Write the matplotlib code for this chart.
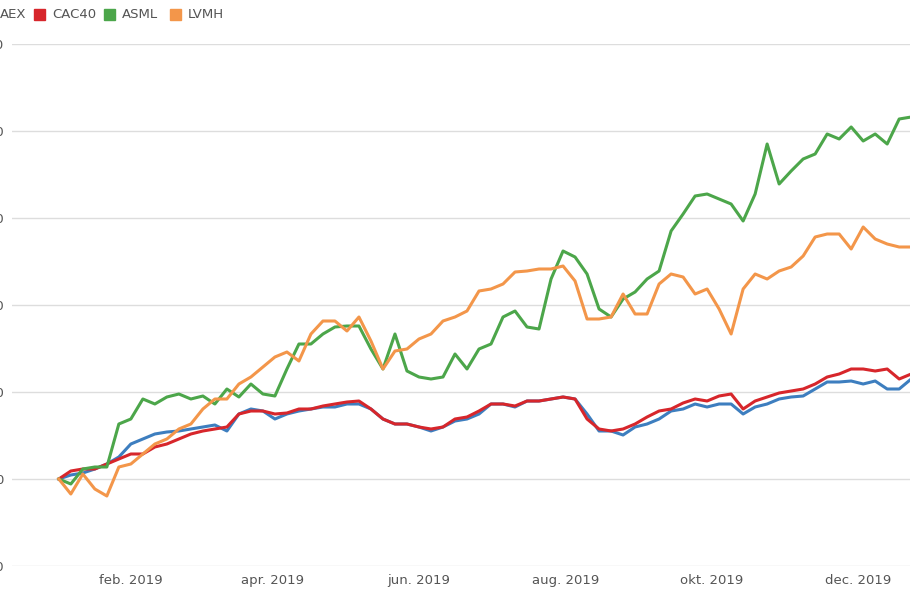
import matplotlib
matplotlib.use("Agg")
import matplotlib.pyplot as plt
import matplotlib.patches as mpatches
import pandas as pd

W, H = 910, 596

# one point every 5 days from 2 Jan 2019
dates = pd.date_range("2019-01-02", periods=72, freq="5D")

# read as pixel heights then converted to % (480 px = 0%, 87 px = 20%)
aex_px = [480, 476, 474, 470, 465, 458, 445, 440, 435, 433, 432, 430, 428, 426, 432, 415, 410, 412,
          420, 415, 412, 410, 408, 408, 405, 405, 410, 420, 425, 425, 428, 432, 428, 422, 420, 415,
          405, 405, 408, 402, 402, 400, 398, 400, 415, 432, 432, 436, 428, 425, 420, 412, 410, 405,
          408, 405, 405, 415, 408, 405, 400, 398, 397, 390, 383, 383, 382, 385, 382, 390, 390, 380]
cac_px = [480, 472, 470, 470, 465, 460, 455, 455, 448, 445, 440, 435, 432, 430, 428, 415, 412, 412,
          415, 414, 410, 410, 407, 405, 403, 402, 410, 420, 425, 425, 428, 430, 428, 420, 418, 412,
          405, 405, 407, 402, 402, 400, 398, 400, 420, 430, 432, 430, 425, 418, 412, 410, 404, 400,
          402, 397, 395, 410, 402, 398, 394, 392, 390, 385, 378, 375, 370, 370, 372, 370, 380, 375]
asml_px = [480, 485, 470, 468, 468, 425, 420, 400, 405, 398, 395, 400, 397, 405, 390, 398, 385, 395,
           397, 370, 345, 345, 335, 328, 327, 327, 350, 370, 335, 372, 378, 380, 378, 355, 370, 350,
           345, 318, 312, 328, 330, 280, 252, 258, 275, 310, 318, 300, 293, 280, 272, 232, 215, 197,
           195, 200, 205, 222, 195, 145, 185, 172, 160, 155, 135, 140, 128, 142, 135, 145, 120, 118]
lvmh_px = [480, 495, 475, 490, 497, 468, 465, 455, 445, 440, 430, 425, 410, 400, 400, 385, 378, 368,
           358, 353, 362, 335, 322, 322, 332, 318, 342, 370, 352, 350, 340, 335, 322, 318, 312, 292,
           290, 285, 273, 272, 270, 270, 267, 282, 320, 320, 318, 295, 315, 315, 285, 275, 278, 295,
           290, 310, 335, 290, 275, 280, 272, 268, 257, 238, 235, 235, 250, 228, 240, 245, 248, 248]

series = {
    "AEX": ([(480 - p) * 20 / 87 for p in aex_px], "#3d7ebf"),
    "CAC40": ([(480 - p) * 20 / 87 for p in cac_px], "#d7262b"),
    "ASML": ([(480 - p) * 20 / 87 for p in asml_px], "#4ca64a"),
    "LVMH": ([(480 - p) * 20 / 87 for p in lvmh_px], "#f3964a"),
}

yticks = [-20, 0, 20, 40, 60, 80, 100]
xtick_dates = pd.to_datetime(["2019-02-01", "2019-04-01", "2019-06-01",
                              "2019-08-01", "2019-10-01", "2019-12-01"])
xtick_labels = ["feb. 2019", "apr. 2019", "jun. 2019", "aug. 2019", "okt. 2019", "dec. 2019"]

fig = plt.figure(figsize=(W / 100, H / 100), dpi=100)
ax = fig.add_axes([12 / W, 30 / H, 1 - 12 / W, (566 - 44) / H])

for name, (vals, col) in series.items():
    ax.plot(dates, vals, color=col, lw=2.2, solid_joinstyle="round")

ax.set_ylim(-20, 100)
ax.set_xlim(pd.Timestamp("2018-12-13 12:00"), pd.Timestamp("2019-12-22 12:00"))
ax.set_yticks(yticks)
ax.set_yticklabels([str(v) for v in yticks])
ax.set_xticks(xtick_dates)
ax.set_xticklabels(xtick_labels)
ax.tick_params(length=0, labelsize=9.5, labelcolor="#555555")
ax.tick_params(axis="y", pad=6)
ax.tick_params(axis="x", pad=6)
ax.grid(axis="y", color="#dddddd", lw=1)
ax.set_axisbelow(True)
for s in ax.spines.values():
    s.set_visible(False)

# legend, partly cut off at the left like the source
leg_x = [-18, 34, 104, 170]
for (name, (vals, col)), x in zip(series.items(), leg_x):
    fig.add_artist(mpatches.Rectangle(((x) / W, (H - 20) / H), 11 / W, 11 / H,
                                      color=col, transform=fig.transFigure))
    fig.text((x + 18) / W, (H - 14) / H, name, fontsize=9.5, color="#555555", va="center")

fig.savefig("out.png", dpi=100)
